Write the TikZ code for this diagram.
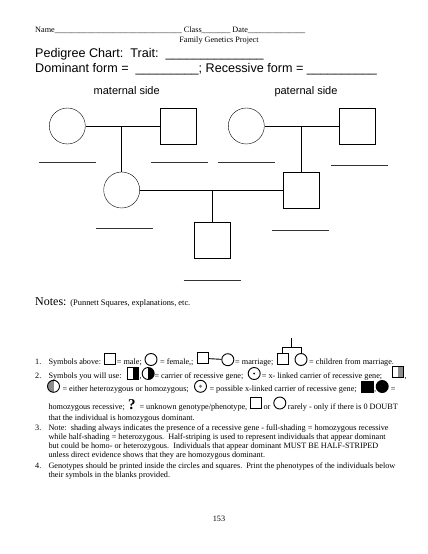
\documentclass[tikz,border=0pt]{standalone}
\usepackage{fontspec}
\setmainfont{Liberation Serif}
\newfontfamily\headfont{Liberation Sans}
\usetikzlibrary{positioning}

\tikzset{
  female/.style={draw, circle, minimum size=36pt, inner sep=0pt, line width=0.4pt},
  male/.style={draw, rectangle, minimum size=36pt, inner sep=0pt, line width=0.5pt},
  tie/.style={line width=0.9pt},
  blank/.style={line width=0.5pt, black!80},
  legcirc/.style={draw, circle, minimum size=12pt, inner sep=0pt, line width=0.9pt},
  legbox/.style={draw, rectangle, minimum size=11.2pt, inner sep=0pt, line width=0.9pt},
  body/.style={anchor=base west, inner sep=0pt, font=\fontsize{8.2}{9}\selectfont},
  head/.style={anchor=base west, inner sep=0pt, font=\headfont\fontsize{12.6}{14}\selectfont},
  side/.style={anchor=base, inner sep=0pt, font=\headfont\fontsize{11}{13}\selectfont},
  righthalf/.style={path picture={\fill[#1] (path picture bounding box.north) rectangle (path picture bounding box.south east);}},
  lefthalf/.style={path picture={\fill[#1] (path picture bounding box.north west) rectangle (path picture bounding box.south);}}
}

\begin{document}
\begin{tikzpicture}[x=1pt, y=-1pt]
\useasboundingbox (0,0) rectangle (428,554);
\fill[white] (0,0) rectangle (428,554);

% header
\node[body] (name) at (35,32.5) {Name\_\_\_\_\_\_\_\_\_\_\_\_\_\_\_\_\_\_\_\_\_\_\_\_\_\_\_\_\_\_\_ Class\_\_\_\_\_\_\_ Date\_\_\_\_\_\_\_\_\_\_\_\_\_\_};
\node[body, anchor=base] (project) at (219,42.7) {Family Genetics Project};
\node[head] (trait) at (35,57) {Pedigree Chart:\ \ Trait:\ \ \_\_\_\_\_\_\_\_\_\_\_\_\_\_};
\node[head] (forms) at (35,72) {Dominant form =\ \ \_\_\_\_\_\_\_\_\_; Recessive form = \_\_\_\_\_\_\_\_\_\_};
\node[side] (maternal) at (126.7,94.5) {maternal side};
\node[side] (paternal) at (306,94.5) {paternal side};

% pedigree
\node[female] (gm1) at (67.3,126) {};
\node[male] (gf1) at (178.5,126) {};
\node[female] (gm2) at (246.3,126) {};
\node[male] (gf2) at (357.7,126) {};
\node[female] (mother) at (121.7,190) {};
\node[male] (father) at (301,190) {};
\node[male] (child) at (212,240.3) {};

\draw[tie] (gm1) -- (gf1);
\draw[tie] (gm2) -- (gf2);
\draw[tie] (mother) -- (father);
\draw[tie] (mother.north) -- (mother.north |- gm1);
\draw[tie] (father.north) -- (father.north |- gm2);
\draw[tie] (child.north) -- (child.north |- father);

% blanks for phenotypes
\draw[blank] (38.7,162.7) -- (95.7,162.7);
\draw[blank] (150.7,162) -- (208,162);
\draw[blank] (217.7,162) -- (275,162);
\draw[blank] (330.7,165) -- (387.7,165);
\draw[blank] (96,228.3) -- (153,228.3);
\draw[blank] (271.7,230.3) -- (329,230.3);
\draw[blank] (183.7,280.3) -- (240.7,280.3);

% notes
\node[body, font=\fontsize{12}{14}\selectfont] (notes) at (35,305.5) {Notes:};
\node[body, font=\fontsize{8.4}{9}\selectfont, right=3.5pt of notes.base east, anchor=base west] (punnett) {(Punnett Squares, explanations, etc.};

% row 1
\node[body] (n1) at (35,364) {1.};
\node[body] at (48.3,364) {Symbols above:};
\node[legbox] (sqa) at (109.7,359) {};
\node[body] at (116.7,364) {= male;};
\node[legcirc] (cia) at (151,359.5) {};
\node[body] at (160,364) {= female,;};
\node[legbox] (sqb) at (203,358.3) {};
\node[legcirc] (cib) at (227.8,359.7) {};
\draw[line width=0.9pt] (sqb) -- (cib);
\node[body] at (235,364) {= marriage;};
\node[legbox] (sqc) at (282.7,358.7) {};
\node[legcirc] (cic) at (301,359.5) {};
\coordinate (top) at (291.7,337.7);
\coordinate (bar) at (291.7,347.7);
\draw[line width=0.9pt] (top) -- (bar);
\draw[line width=0.9pt] (sqc.north) |- (bar) -| (cic.north);
\node[body] at (309,364) {= children from marriage.};

% row 2
\node[body] (n2) at (35,378) {2.};
\node[body] at (48.3,378) {Symbols you will use:};
\node[legbox, righthalf=black] (sqd) at (133,373.5) {};
\node[body] at (139.5,378) {,};
\node[legcirc, righthalf=black] (cid) at (148.2,373.5) {};
\node[body] at (154.3,378) {= carrier of recessive gene;};
\node[legcirc] (cie) at (254.2,373.5) {};
\fill (cie.center) circle (1pt);
\node[body] at (261.7,378) {= x- linked carrier of recessive gene;};
\node[legbox, righthalf=black!45] (sqe) at (398,372.3) {};
\node[body] at (404.5,378) {,};

% row 3
\node[legcirc, lefthalf=black!45] (cif) at (53.5,386.3) {};
\node[body] at (62.3,391.7) {= either heterozygous or homozygous;};
\node[legcirc] (cig) at (200.5,386.3) {};
\fill[black!55] (cig.center) circle (1.6pt);
\node[body] at (209.3,391.7) {= possible x-linked carrier of recessive gene;};
\node[legbox, fill=black] (sqf) at (367.5,387) {};
\node[body] at (374,391.7) {,};
\node[legcirc, fill=black] (cih) at (382.2,386.5) {};
\node[body] at (390.7,391.7) {=};

% row 4
\node[body] at (48.3,409.3) {homozygous recessive;};
\node[body, font=\bfseries\fontsize{15}{15}\selectfont] at (128,409.3) {?};
\node[body] at (139.3,409.3) {= unknown genotype/phenotype,};
\node[legbox] (sqg) at (256.3,403) {};
\node[body] at (263.3,409.3) {or};
\node[legcirc] (cij) at (279.8,403) {};
\node[body] at (287.7,409.3) {rarely - only if there is 0 DOUBT};
\node[body] at (48.3,420.7) {that the individual is homozygous dominant.};

% remaining notes
\node[body] (n3) at (35,430) {3.};
\node[body] at (48.3,430) {Note:\ \ shading always indicates the presence of a recessive gene - full-shading = homozygous recessive};
\node[body] at (48.3,439) {while half-shading = heterozygous.\ \ Half-striping is used to represent individuals that appear dominant};
\node[body] at (48.3,448.4) {but could be homo- or heterozygous.\ \ Individuals that appear dominant MUST BE HALF-STRIPED};
\node[body] at (48.3,457.7) {unless direct evidence shows that they are homozygous dominant.};
\node[body] (n4) at (35,468) {4.};
\node[body] at (48.3,468) {Genotypes should be printed inside the circles and squares.\ \ Print the phenotypes of the individuals below};
\node[body] at (48.3,477) {their symbols in the blanks provided.};

\node[body, anchor=base] (page) at (219,521) {153};
\end{tikzpicture}
\end{document}
